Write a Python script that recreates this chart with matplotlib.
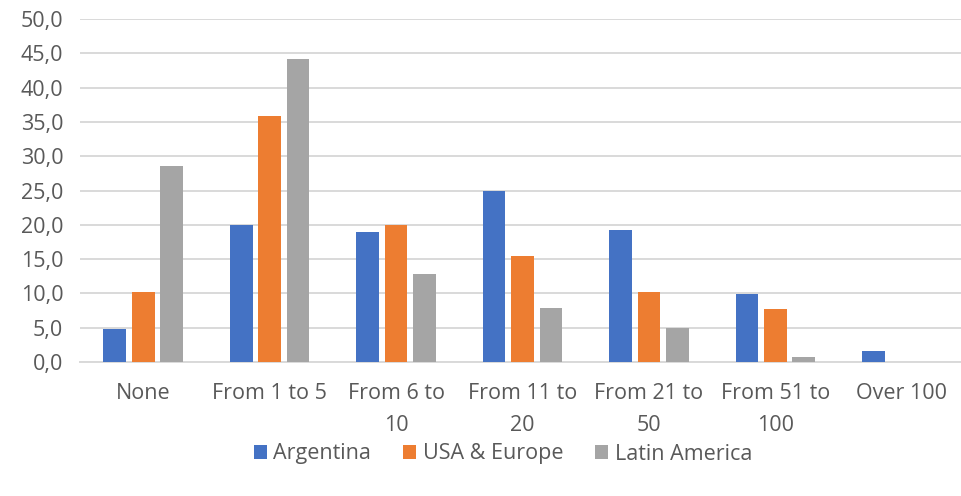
import numpy as np
import matplotlib.pyplot as plt

# company size groups and share of respondents (%)
categories = ['None', 'From 1 to 5', 'From 6 to\n10', 'From 11 to\n20',
              'From 21 to\n50', 'From 51 to\n100', 'Over 100']
argentina = [4.8, 19.9, 18.9, 25.0, 19.3, 9.9, 1.6]
usa_europe = [10.2, 35.8, 19.9, 15.5, 10.2, 7.7, 0.0]
latin_america = [28.5, 44.2, 12.8, 7.9, 5.0, 0.8, 0.0]
series_names = ['Argentina', 'USA & Europe', 'Latin America']
colors = ['#4472C4', '#ED7D31', '#A5A5A5']

plt.rcParams['font.family'] = ['Open Sans', 'DejaVu Sans']

fig = plt.figure(figsize=(9.61, 4.96), dpi=100)
ax = fig.add_axes([80 / 961, 1 - 362 / 496, 885 / 961, 343 / 496])

x = np.arange(len(categories))
step = 0.225
width = 0.18
for i, (vals, name, col) in enumerate(zip([argentina, usa_europe, latin_america], series_names, colors)):
    ax.bar(x + (i - 1) * step, vals, width, color=col, label=name, zorder=3)

ax.set_xlim(-0.5, len(categories) - 0.5)
ax.set_ylim(0, 50)
ax.set_yticks(np.arange(0, 51, 5))
ax.set_yticklabels([f'{v:.1f}'.replace('.', ',') for v in np.arange(0, 51, 5)])
ax.set_xticks(x)
ax.set_xticklabels(categories, linespacing=1.7)

ax.grid(axis='y', color='#d9d9d9', linewidth=1.4, zorder=0)
for s in ['top', 'right', 'left']:
    ax.spines[s].set_visible(False)
ax.spines['bottom'].set_color('#d9d9d9')
ax.spines['bottom'].set_linewidth(1.4)
ax.tick_params(axis='both', length=0, labelsize=15.5, colors='#595959')
ax.tick_params(axis='x', pad=15)
ax.tick_params(axis='y', pad=12)

leg = fig.legend(loc='center', bbox_to_anchor=(503 / 961, 1 - 454 / 496), ncol=3,
                 frameon=False, fontsize=15.5, handlelength=0.6, handleheight=0.6,
                 handletextpad=0.3, columnspacing=1.5)
for t in leg.get_texts():
    t.set_color('#595959')

fig.savefig('out.png', dpi=100)
